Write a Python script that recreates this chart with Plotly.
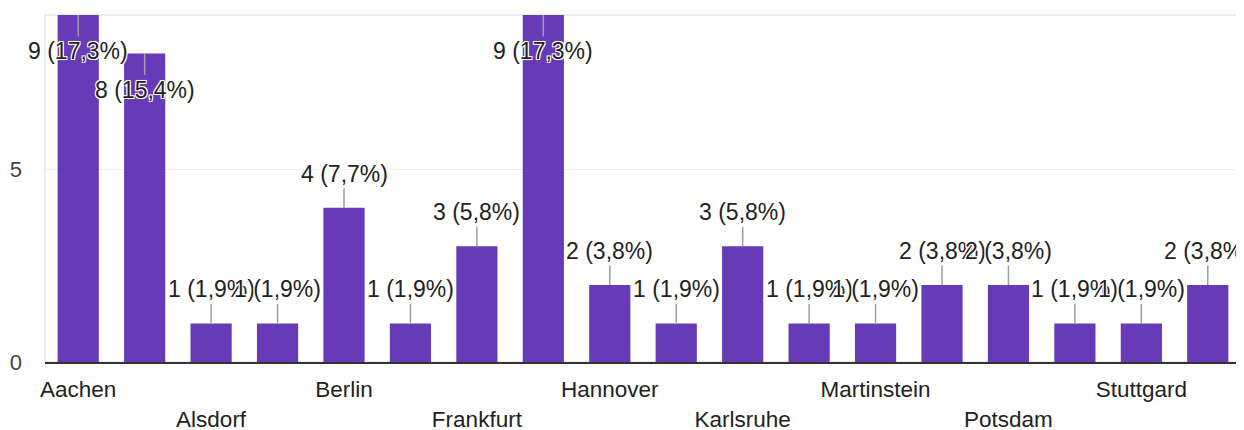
import plotly.graph_objects as go

# Data
label_positions = [0, 2, 4, 6, 8, 10, 12, 14, 16]
label_names = ["Aachen", "Alsdorf", "Berlin", "Frankfurt", "Hannover",
               "Karlsruhe", "Martinstein", "Potsdam", "Stuttgard"]
counts = [9, 8, 1, 1, 4, 1, 3, 9, 2, 1, 3, 1, 1, 2, 2, 1, 1, 2]
y_ticks = [0, 5]

total = sum(counts)
n = len(counts)
xs = list(range(n))

BAR = "#673AB7"
FONT = "Liberation Sans, Arial, sans-serif"
HALO = "-1px -1px 0 #fff, 1px -1px 0 #fff, -1px 1px 0 #fff, 1px 1px 0 #fff, 0 0 2px #fff"

fig = go.Figure()
fig.add_trace(go.Bar(x=xs, y=counts, marker=dict(color=BAR, line=dict(width=0)),
                     hoverinfo="skip", showlegend=False))

annotations = []
max_c = max(counts)
for i, v in enumerate(counts):
    pct = f"{v / total * 100:.1f}".replace(".", ",")
    inside = v >= max_c - 1
    annotations.append(dict(
        x=i, y=v, xref="x", yref="y",
        text=f"{v} ({pct}%)",
        showarrow=True, arrowhead=0, arrowwidth=1.5, arrowcolor="#9e9e9e",
        ax=0, ay=36 if inside else -34, standoff=0,
        font=dict(family=FONT, size=23, color="#222222", shadow=HALO),
    ))

row1 = [p for k, p in enumerate(label_positions) if k % 2 == 0]
row1_t = [t for k, t in enumerate(label_names) if k % 2 == 0]
row2 = [p for k, p in enumerate(label_positions) if k % 2 == 1]
row2_t = [t for k, t in enumerate(label_names) if k % 2 == 1]

xr = [-0.5, n - 0.5]
fig.update_layout(
    width=1236, height=422,
    margin=dict(l=37, r=3, t=7, b=68, autoexpand=False),
    paper_bgcolor="white", plot_bgcolor="white",
    bargap=0.38,
    font=dict(family=FONT, size=22, color="#222222"),
    annotations=annotations,
    xaxis=dict(range=xr, tickmode="array", tickvals=row1, ticktext=row1_t,
               showgrid=False, zeroline=False, ticks="",
               showline=True, linecolor="#333333", linewidth=2,
               tickfont=dict(size=22.5, color="#222222"), ticklabelstandoff=6),
    xaxis2=dict(range=xr, overlaying="x", anchor="y", side="bottom", tickmode="array",
                tickvals=row2, ticktext=row2_t, showgrid=False, zeroline=False,
                ticks="", showline=False,
                tickfont=dict(size=22.5, color="#222222"), ticklabelstandoff=41),
    yaxis=dict(range=[0, max_c], tickmode="array", tickvals=y_ticks,
               showgrid=True, gridcolor="#ececec", gridwidth=1, zeroline=False,
               ticks="", tickfont=dict(size=22, color="#444444"),
               ticklabelstandoff=22),
    shapes=[dict(type="rect", xref="paper", yref="paper", x0=0, x1=1, y0=0, y1=1,
                 line=dict(color="#ececec", width=2), layer="below")],
)
# invisible trace to activate the second (staggered) label axis
fig.add_trace(go.Scatter(x=[xr[0]], y=[0], xaxis="x2", mode="markers",
                         marker=dict(opacity=0), hoverinfo="skip", showlegend=False))

fig.write_html("out.html")
